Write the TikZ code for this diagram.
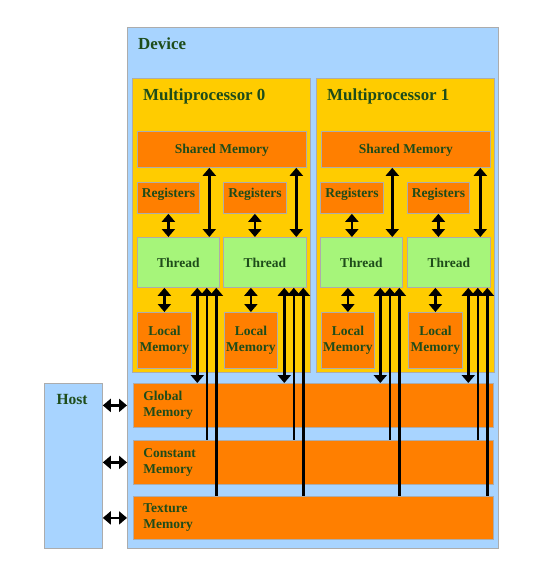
\documentclass[tikz,border=0pt]{standalone}
\usepackage{fontspec}
\setmainfont{Liberation Serif}
\usepackage{tikz}
\usetikzlibrary{arrows.meta}

\definecolor{devblue}{RGB}{168,212,255}
\definecolor{mpyellow}{RGB}{255,204,0}
\definecolor{memorange}{RGB}{255,127,0}
\definecolor{thrgreen}{RGB}{166,245,122}
\definecolor{txtgreen}{RGB}{30,76,26}
\definecolor{edgegray}{RGB}{172,172,172}

\begin{document}
\begin{tikzpicture}[x=1pt, y=-1pt, >={Triangle[length=8pt, width=13pt]},
		box/.style={draw=edgegray, line width=0.8pt, inner sep=0pt, anchor=north west, text=txtgreen, align=center, font=\bfseries\fontsize{13.5}{16}\selectfont},
		title/.style={anchor=base west, inner sep=0pt, text=txtgreen, font=\bfseries\fontsize{16.9}{19}\selectfont},
		shbox/.style={box, fill=memorange, minimum width=169pt, minimum height=36pt, text height=9pt, text depth=1pt},
		regbox/.style={box, fill=memorange, minimum height=31pt, text height=9pt, text depth=10pt},
		thrbox/.style={box, fill=thrgreen, minimum height=50pt},
		locbox/.style={box, fill=memorange, minimum height=56pt},
		membox/.style={box, fill=memorange, minimum height=44pt, text width=340pt, inner xsep=10pt, align=left},
		duplex/.style={<->, line width=2.6pt},
		simplex/.style={<-, line width=2.6pt}]
		\useasboundingbox (0,0) rectangle (557,571);
		
		\node[box, fill=devblue, minimum width=371pt, minimum height=521pt] (dev) at (127,27) {};
		\node[title] (devt) at (138,49) {Device};
		\node[box, fill=devblue, minimum width=58pt, minimum height=165pt] (host) at (44,383) {};
		\node[title, anchor=base, font=\bfseries\fontsize{15.5}{18}\selectfont] (hostt) at (72,404) {Host};
		
		% multiprocessor 0
		\node[box, fill=mpyellow, minimum width=178pt, minimum height=294pt] (mp0) at (132,78) {};
		\node[title] (mp0t) at (143,100) {Multiprocessor 0};
		\node[shbox] (sh0) at (137,131) {Shared Memory};
		\node[regbox, minimum width=62pt] (rg00) at (137,182) {Registers};
		\node[regbox, minimum width=63pt] (rg01) at (223,182) {Registers};
		\node[thrbox, minimum width=82pt] (th00) at (137,237) {Thread};
		\node[thrbox, minimum width=83pt] (th01) at (223,237) {Thread};
		\node[locbox, minimum width=54pt] (lm00) at (137,312) {Local\\Memory};
		\node[locbox, minimum width=53pt] (lm01) at (224,312) {Local\\Memory};
		
		% multiprocessor 1
		\node[box, fill=mpyellow, minimum width=178pt, minimum height=294pt] (mp1) at (316,78) {};
		\node[title] (mp1t) at (327,100) {Multiprocessor 1};
		\node[shbox] (sh1) at (321,131) {Shared Memory};
		\node[regbox, minimum width=63pt] (rg10) at (320,182) {Registers};
		\node[regbox, minimum width=62pt] (rg11) at (407,182) {Registers};
		\node[thrbox, minimum width=82pt] (th10) at (320,237) {Thread};
		\node[thrbox, minimum width=83pt] (th11) at (407,237) {Thread};
		\node[locbox, minimum width=53pt] (lm10) at (321,312) {Local\\Memory};
		\node[locbox, minimum width=54pt] (lm11) at (408,312) {Local\\Memory};
		
		% device memories
		\node[membox] (gm) at (133,383) {Global\\Memory};
		\node[membox] (cm) at (133,440) {Constant\\Memory};
		\node[membox, minimum height=43pt] (tm) at (133,496) {Texture\\Memory};
		
		\foreach \m in {gm, cm, tm}
			\draw[duplex] (host.east |- \m.west) -- (dev.west |- \m.west);
		
		\foreach \t/\r/\l/\s in {th00/rg00/lm00/sh0, th01/rg01/lm01/sh0, th10/rg10/lm10/sh1, th11/rg11/lm11/sh1} {
			\draw[duplex] (\r.south) -- (\r.south |- \t.north);
			\draw[duplex] (\t.south -| \l.north) -- (\l.north);
			\draw[duplex] ([xshift=-10.5pt]\t.north east) -- ([xshift=-10.5pt]\t.north east |- \s.south);
			\draw[duplex] ([xshift=-22.5pt]\t.south east) -- ([xshift=-22.5pt]\t.south east |- gm.north);
			\draw[simplex] ([xshift=-13pt]\t.south east) -- ([xshift=-13pt]\t.south east |- cm.north);
			\draw[simplex] ([xshift=-3.5pt]\t.south east) -- ([xshift=-3.5pt]\t.south east |- tm.north);
		}
	\end{tikzpicture}
\end{document}
